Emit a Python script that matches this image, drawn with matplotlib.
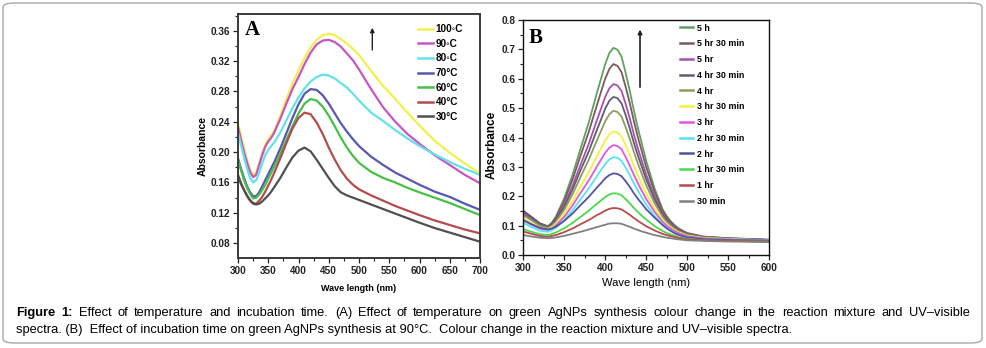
import matplotlib
matplotlib.use('Agg')
import matplotlib.pyplot as plt
from matplotlib.patches import FancyBboxPatch
from matplotlib import font_manager

# ---------------- data: panel A (temperature) ----------------
A_WL = [300, 305, 310, 315, 320, 325, 330, 335, 340, 345, 350, 355, 360, 370, 380, 390, 400, 410,
        420, 430, 440, 450, 460, 470, 480, 490, 500, 520, 540, 560, 580, 600, 625, 650, 675, 700]
A_LABELS = ['100\u25e6C', '90\u25e6C', '80\u25e6C', '70\u00b0C', '60\u00b0C', '40\u00b0C', '30\u00b0C']
A_100C = [.238, .221, .205, .190, .177, .169, .173, .186, .199, .210, .217, .222, .229, .248, .270, .290, .308, .324,
          .338, .348, .354, .356, .354, .349, .343, .336, .328, .307, .287, .270, .252, .235, .215, .199, .185, .172]
A_90C = [.233, .216, .200, .186, .174, .167, .170, .183, .196, .207, .214, .219, .226, .244, .264, .283, .299, .316,
         .331, .342, .347, .348, .345, .339, .330, .321, .309, .283, .259, .240, .224, .211, .196, .183, .170, .159]
A_80C = [.226, .209, .193, .178, .166, .160, .163, .173, .185, .196, .203, .208, .213, .226, .242, .258, .272, .284,
         .293, .299, .302, .301, .297, .291, .285, .277, .268, .252, .241, .229, .218, .208, .197, .187, .178, .170]
A_70C = [.192, .178, .166, .155, .147, .142, .142, .147, .155, .163, .171, .179, .187, .205, .225, .245, .263, .277,
         .283, .282, .275, .264, .251, .238, .227, .217, .208, .194, .183, .173, .165, .157, .148, .141, .132, .124]
A_60C = [.190, .176, .163, .153, .145, .139, .140, .144, .150, .157, .165, .173, .181, .198, .216, .234, .251, .264,
         .270, .268, .260, .248, .234, .219, .206, .195, .186, .174, .166, .160, .153, .147, .140, .133, .125, .117]
A_40C = [.168, .158, .150, .143, .137, .133, .132, .136, .141, .148, .156, .164, .173, .192, .212, .231, .245, .252,
         .250, .239, .224, .206, .190, .176, .165, .157, .151, .143, .136, .129, .123, .117, .110, .104, .098, .093]
A_30C = [.170, .159, .150, .142, .136, .132, .131, .132, .135, .139, .143, .148, .154, .166, .180, .193, .202, .206,
         .201, .190, .178, .166, .155, .147, .143, .140, .137, .131, .125, .119, .113, .107, .100, .094, .088, .082]
A_SERIES = [A_100C, A_90C, A_80C, A_70C, A_60C, A_40C, A_30C]
A_COLORS = ['#f2f04a', '#c855c8', '#62e2ea', '#5858b0', '#46c046', '#b44c4c', '#505050']
A_XTICKS = [300, 350, 400, 450, 500, 550, 600, 650, 700]
A_YTICKS = [0.08, 0.12, 0.16, 0.20, 0.24, 0.28, 0.32, 0.36]
A_YTICKLABELS = ['0.08', '0.12', '0.16', '0.20', '0.24', '0.28', '0.32', '0.36']

# ---------------- data: panel B (incubation time) ----------------
B_WL = [300, 310, 320, 330, 335, 340, 350, 360, 370, 380, 390, 395, 400, 405, 410, 415, 420,
        425, 430, 435, 440, 445, 450, 460, 470, 475, 480, 485, 490, 500, 520, 550, 600]
B_LABELS = ['5 h', '5 hr 30 min', '5 hr', '4 hr 30 min', '4 hr', '3 hr 30 min', '3 hr',
            '2 hr 30 min', '2 hr', '1 hr 30 min', '1 hr', '30 min']
B_5H = [.145, .128, .108, .098, .110, .132, .193, .272, .363, .452, .553, .601, .650, .687, .705, .699, .675,
        .620, .559, .492, .431, .376, .321, .229, .156, .133, .115, .101, .090, .075, .063, .057, .052]
B_5H30 = [.150, .130, .108, .097, .109, .128, .184, .256, .339, .420, .511, .556, .600, .633, .650, .644, .622,
          .572, .517, .456, .400, .350, .300, .217, .151, .129, .112, .099, .088, .074, .062, .057, .052]
B_5HR = [.140, .123, .104, .095, .105, .122, .171, .235, .308, .379, .460, .499, .538, .567, .582, .577, .558,
         .514, .465, .411, .362, .318, .274, .201, .142, .122, .107, .095, .085, .072, .061, .056, .051]
B_4H30 = [.150, .128, .105, .095, .104, .120, .164, .222, .289, .353, .427, .462, .498, .525, .538, .534, .516,
          .476, .431, .382, .338, .298, .258, .191, .138, .119, .104, .093, .083, .071, .061, .056, .051]
B_4HR = [.135, .118, .100, .092, .100, .114, .154, .206, .266, .325, .391, .423, .455, .479, .491, .487, .471,
         .435, .395, .351, .311, .274, .238, .178, .130, .113, .100, .089, .080, .069, .060, .055, .051]
B_3H30 = [.125, .108, .093, .088, .095, .107, .140, .184, .234, .282, .337, .363, .390, .410, .420, .417, .403,
          .373, .340, .303, .270, .240, .210, .160, .120, .105, .094, .085, .077, .066, .058, .054, .050]
B_3HR = [.120, .103, .090, .085, .091, .101, .130, .168, .212, .254, .302, .325, .348, .365, .374, .371, .360,
         .333, .304, .273, .244, .217, .191, .148, .113, .100, .090, .081, .074, .064, .057, .053, .050]
B_2H30 = [.110, .095, .083, .079, .084, .093, .119, .152, .190, .227, .269, .290, .310, .325, .333, .331, .320,
          .297, .272, .244, .218, .195, .172, .134, .104, .092, .083, .075, .068, .060, .054, .051, .049]
B_2HR = [.118, .105, .093, .087, .090, .097, .116, .141, .170, .198, .230, .245, .261, .272, .278, .276, .268,
         .251, .232, .210, .191, .174, .156, .128, .102, .091, .082, .074, .068, .060, .054, .051, .049]
B_1H30 = [.088, .079, .071, .068, .072, .077, .091, .109, .130, .151, .175, .186, .197, .206, .210, .209, .203,
          .190, .176, .160, .146, .133, .121, .099, .082, .075, .070, .065, .060, .055, .050, .048, .046]
B_1HR = [.080, .072, .065, .062, .065, .068, .078, .090, .105, .119, .136, .143, .151, .157, .160, .159, .155,
         .146, .137, .126, .116, .107, .098, .084, .072, .068, .064, .061, .058, .053, .050, .048, .046]
B_30MIN = [.068, .063, .059, .057, .058, .060, .065, .072, .079, .087, .095, .099, .103, .107, .108, .108, .106,
           .101, .096, .090, .085, .080, .076, .068, .062, .059, .057, .055, .053, .050, .048, .046, .044]
B_SERIES = [B_5H, B_5H30, B_5HR, B_4H30, B_4HR, B_3H30, B_3HR, B_2H30, B_2HR, B_1H30, B_1HR, B_30MIN]
B_COLORS = ['#62a062', '#7a5c5c', '#a452b0', '#5e5e70', '#909a60', '#f4f03c', '#e056e0', '#56e4ee',
            '#5252a0', '#4cd84c', '#b84c4c', '#808080']
B_XTICKS = [300, 350, 400, 450, 500, 550, 600]
B_YTICKS = [0.0, 0.1, 0.2, 0.3, 0.4, 0.5, 0.6, 0.7, 0.8]
B_YTICKLABELS = ['0.0', '0.1', '0.2', '0.3', '0.4', '0.5', '0.6', '0.7', '0.8']

CAPTION_1 = ('Effect of temperature and incubation time.  (A)  Effect of temperature on green AgNPs '
             'synthesis colour change in the reaction mixture and UV\u2013visible')
CAPTION_2 = ('spectra. (B)  Effect of incubation time on green AgNPs synthesis at 90\u00b0C.  '
             'Colour change in the reaction mixture and UV\u2013visible spectra.')

# ---------------- figure ----------------
W, H = 986, 348
fig = plt.figure(figsize=(W / 100, H / 100), dpi=100)

installed = {f.name for f in font_manager.fontManager.ttflist}
NARROW = 'Liberation Sans Narrow' if 'Liberation Sans Narrow' in installed else 'Liberation Sans'
SANS = 'Liberation Sans'
SERIF = 'Liberation Serif'


def axes_box(l, t, r, b):
    return [l / W, 1 - b / H, (r - l) / W, (b - t) / H]


def style_axes(ax, xticks, yticks, yticklabels, xminor, yminor, spine_c, spine_w):
    ax.set_xticks(xticks)
    ax.set_xticklabels([str(v) for v in xticks], fontweight='bold', family=SANS, fontsize=7.2)
    ax.set_yticks(yticks)
    ax.set_yticklabels(yticklabels, fontweight='bold', family=SANS, fontsize=7.2)
    ax.xaxis.set_minor_locator(matplotlib.ticker.MultipleLocator(xminor))
    ax.yaxis.set_minor_locator(matplotlib.ticker.MultipleLocator(yminor))
    ax.tick_params(which='major', direction='out', length=3.5, width=0.9, pad=2, colors='#222')
    ax.tick_params(which='minor', direction='out', length=2, width=0.8, colors='#222')
    for s in ax.spines.values():
        s.set_color(spine_c)
        s.set_linewidth(spine_w)


# ---- Panel A ----
axA = fig.add_axes(axes_box(238, 14, 480, 258))
for ys, c, lbl in zip(A_SERIES, A_COLORS, A_LABELS):
    axA.plot(A_WL, ys, color=c, lw=1.6, label=lbl, solid_joinstyle='round')
axA.set_xlim(300, 700)
axA.set_ylim(0.0605, 0.382)
style_axes(axA, A_XTICKS, A_YTICKS, A_YTICKLABELS, 25, 0.02, '#3a3a3a', 1.4)
axA.set_xlabel('Wave length (nm)', fontsize=6.5, fontweight='bold', family=NARROW)
axA.xaxis.set_label_coords(0.5, -0.105)
axA.set_ylabel('Absorbance', fontsize=7.5, fontweight='bold', family=SANS)
axA.yaxis.set_label_coords(-0.125, 0.46)
axA.text(0.029, 0.914, 'A', transform=axA.transAxes, fontsize=15, fontweight='bold',
         family=SERIF, va='baseline', ha='left')
axA.annotate('', xy=(522, 0.3675), xytext=(522, 0.331),
             arrowprops=dict(arrowstyle='-|>', color='#222', lw=1.0, mutation_scale=6))
legA = axA.legend(loc='upper left', bbox_to_anchor=(0.744, 0.958), frameon=False,
                  handlelength=1.45, handletextpad=0.3, labelspacing=0.46, borderpad=0,
                  borderaxespad=0, prop=dict(family=SANS, weight='bold', size=7.2))
for h in legA.get_lines():
    h.set_linewidth(1.8)

# ---- Panel B ----
axB = fig.add_axes(axes_box(523.3, 20, 769, 255))
for ys, c, lbl in zip(B_SERIES, B_COLORS, B_LABELS):
    axB.plot(B_WL, ys, color=c, lw=1.3, label=lbl, solid_joinstyle='round')
axB.set_xlim(300, 600)
axB.set_ylim(0.0, 0.8)
style_axes(axB, B_XTICKS, B_YTICKS, B_YTICKLABELS, 25, 0.05, '#111', 1.0)
axB.set_xlabel('Wave length (nm)', fontsize=8, family=SANS)
axB.xaxis.set_label_coords(0.5, -0.1)
axB.set_ylabel('Absorbance', fontsize=8.5, fontweight='bold', family=SANS)
axB.yaxis.set_label_coords(-0.105, 0.47)
axB.text(0.023, 0.902, 'B', transform=axB.transAxes, fontsize=15, fontweight='bold',
         family=SERIF, va='baseline', ha='left')
axB.annotate('', xy=(442.5, 0.777), xytext=(442.5, 0.562),
             arrowprops=dict(arrowstyle='-|>', color='#222', lw=1.2, mutation_scale=6))
legB = axB.legend(loc='upper left', bbox_to_anchor=(0.638, 0.985), frameon=False,
                  handlelength=1.4, handletextpad=0.55, labelspacing=0.76, borderpad=0,
                  borderaxespad=0, prop=dict(family=SANS, weight='bold', size=6.4))
for h in legB.get_lines():
    h.set_linewidth(1.8)

# ---- border ----
fig.patches.append(FancyBboxPatch((3 / W, 1 - 343 / H), 979 / W, 340 / H,
                                  boxstyle='round,pad=0,rounding_size=0.012',
                                  transform=fig.transFigure, fill=False,
                                  edgecolor='#a8a8a8', lw=1.0))

# ---- caption (first line justified) ----
renderer = fig.canvas.get_renderer()
CAP_SIZE = 9.3


def width_of(s, weight='normal'):
    t = fig.text(0, 0, s, fontsize=CAP_SIZE, family=NARROW, weight=weight)
    w = t.get_window_extent(renderer).width
    t.remove()
    return w


x0, x1 = 16, 970
y1 = 1 - 316 / H
y2 = 1 - 333 / H
words = [('Figure', 'bold'), ('1:', 'bold')] + [(w, 'normal') for w in CAPTION_1.split()]
widths = [width_of(w, wt) for w, wt in words]
gap = (x1 - x0 - sum(widths)) / (len(words) - 1)
x = x0
for (w, wt), ww in zip(words, widths):
    fig.text(x / W, y1, w, fontsize=CAP_SIZE, family=NARROW, weight=wt, va='baseline', ha='left')
    x += ww + gap
fig.text(x0 / W, y2, CAPTION_2, fontsize=CAP_SIZE, family=NARROW, va='baseline', ha='left')

fig.savefig('out.png', dpi=100)
